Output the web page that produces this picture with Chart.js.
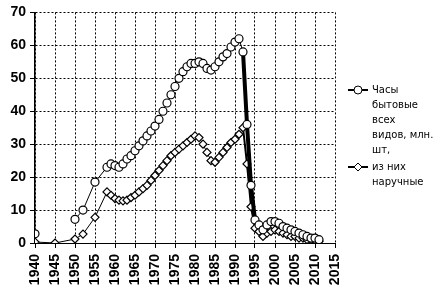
<!DOCTYPE html>
<html>
<head>
<meta charset="utf-8">
<script src="https://cdn.jsdelivr.net/npm/chart.js@4/dist/chart.umd.min.js"></script>
<style>
  html, body { margin: 0; padding: 0; background: #fff; }
  #wrap { width: 442px; height: 293px; }
</style>
</head>
<body>
<div id="wrap"><canvas id="chart"></canvas></div>
<script>
// ---- data ----
const years = [1940, 1945, 1950, 1952, 1955,
  1958, 1959, 1960, 1961, 1962, 1963, 1964, 1965, 1966, 1967, 1968, 1969,
  1970, 1971, 1972, 1973, 1974, 1975, 1976, 1977, 1978, 1979,
  1980, 1981, 1982, 1983, 1984, 1985, 1986, 1987, 1988, 1989,
  1990, 1991, 1992, 1993, 1994, 1995, 1996, 1997, 1998, 1999,
  2000, 2001, 2002, 2003, 2004, 2005, 2006, 2007, 2008, 2009, 2010, 2011];

// Часы бытовые всех видов, млн. шт.
const allClocks = [2.8, null, 7.2, 10, 18.5,
  23.0, 24.0, 23.5, 23.0, 24.0, 25.5, 26.5, 28.0, 29.5, 31.0, 32.5, 34.0,
  35.5, 37.5, 40.0, 42.5, 45.0, 47.5, 50.0, 52.0, 53.5, 54.5,
  54.5, 55.0, 54.5, 53.0, 52.5, 53.5, 55.0, 56.5, 57.5, 59.5,
  61.0, 62.0, 58.0, 36.0, 17.5, 7.0, 5.5, 4.0, 5.5, 6.5,
  6.5, 6.0, 5.0, 4.5, 4.0, 3.5, 3.0, 2.5, 2.0, 1.5, 1.5, 1.0];

// из них наручные
const wristWatches = [0.3, 0.0, 1.2, 2.7, 7.8,
  15.5, 14.5, 13.5, 13.0, 12.8, 13.0, 13.8, 14.5, 15.5, 16.5, 17.5, 19.0,
  20.5, 22.0, 23.5, 25.0, 26.5, 27.5, 28.5, 29.5, 30.5, 31.5,
  32.5, 32.0, 30.0, 27.5, 25.0, 24.5, 26.0, 27.5, 29.0, 30.5,
  31.5, 33.0, 35.0, 24.0, 11.0, 4.5, 3.5, 2.0, 3.0, 3.5,
  4.0, 3.5, 3.0, 2.5, 2.0, 2.0, 1.5, 1.5, 1.0, 1.0, 0.8, 0.5];

const seriesNames = [
  ["Часы", "бытовые", "всех", "видов, млн.", "шт,"],
  ["из них", "наручные"]
];

const xMin = 1940, xMax = 2015, xStep = 5;
const yMin = 0, yMax = 70, yStep = 10;

const toPoints = vals => years.map((x, i) => ({ x: x, y: vals[i] }));

// no line across missing years, heavy line on the 1992-95 collapse
function segWidth(heavy) {
  return ctx => {
    const a = ctx.p0.parsed.x, b = ctx.p1.parsed.x;
    if (b - a > 1) return 0;
    if (a >= 1992 && b <= 1995) return heavy;
    return 1;
  };
}

// --- legend drawn at the side, wrapped like the original ---
const sideLegend = {
  id: "sideLegend",
  afterDraw(chart) {
    const ctx = chart.ctx;
    const x0 = chart.chartArea.right + 13;
    let y = 90;
    chart.data.datasets.forEach((ds, i) => {
      ctx.save();
      ctx.strokeStyle = "#000";
      ctx.lineWidth = 2;
      ctx.beginPath();
      ctx.moveTo(x0, y);
      ctx.lineTo(x0 + 20, y);
      ctx.stroke();
      ctx.fillStyle = "#fff";
      ctx.lineWidth = 1;
      Chart.helpers.drawPoint(ctx, { pointStyle: ds.pointStyle, radius: 4, borderWidth: 1, rotation: 0 }, x0 + 10, y);
      ctx.fillStyle = "#000";
      ctx.font = '10px "DejaVu Sans"';
      ctx.textBaseline = "middle";
      seriesNames[i].forEach((line, k) => ctx.fillText(line, x0 + 24, y + k * 15));
      ctx.restore();
      y += seriesNames[i].length * 15 + 2;
    });
  }
};

const tickFont = { family: '"Liberation Sans", Arial, sans-serif', size: 14, weight: "bold" };

new Chart(document.getElementById("chart"), {
  type: "line",
  data: {
    datasets: [
      {
        label: seriesNames[0].join(" "),
        data: toPoints(allClocks),
        borderColor: "#000",
        borderWidth: 1,
        pointStyle: "circle",
        pointRadius: 4,
        pointBorderWidth: 1.2,
        pointBackgroundColor: "#fff",
        pointBorderColor: "#000",
        segment: { borderWidth: segWidth(4) }
      },
      {
        label: seriesNames[1].join(" "),
        data: toPoints(wristWatches),
        borderColor: "#000",
        borderWidth: 1,
        pointStyle: "rectRot",
        pointRadius: 4,
        pointBorderWidth: 1.2,
        pointBackgroundColor: "#fff",
        pointBorderColor: "#000",
        segment: { borderWidth: segWidth(2) }
      }
    ]
  },
  options: {
    responsive: true,
    maintainAspectRatio: false,
    animation: false,
    layout: { padding: { left: 0, right: 107, top: 11, bottom: 0 } },
    plugins: { legend: { display: false }, tooltip: { enabled: false } },
    scales: {
      x: {
        type: "linear",
        min: xMin, max: xMax,
        afterFit: s => { s.height = 50; },
        ticks: {
          stepSize: xStep,
          autoSkip: false,
          minRotation: 90, maxRotation: 90,
          padding: 6,
          color: "#000",
          font: tickFont,
          callback: v => String(v)
        },
        grid: { color: "#000", lineWidth: 1, tickLength: 5, tickColor: "#000", tickWidth: 1 },
        border: { display: true, color: "#000", width: 1, dash: [2, 2] }
      },
      y: {
        min: yMin, max: yMax,
        afterFit: s => { s.width = 35; },
        ticks: { stepSize: yStep, padding: 4, color: "#000", font: tickFont },
        grid: { color: "#000", lineWidth: 1, tickLength: 5, tickColor: "#000", tickWidth: 1 },
        border: { display: true, color: "#000", width: 1.5, dash: [2, 2] }
      }
    }
  },
  plugins: [sideLegend]
});
</script>
</body>
</html>
